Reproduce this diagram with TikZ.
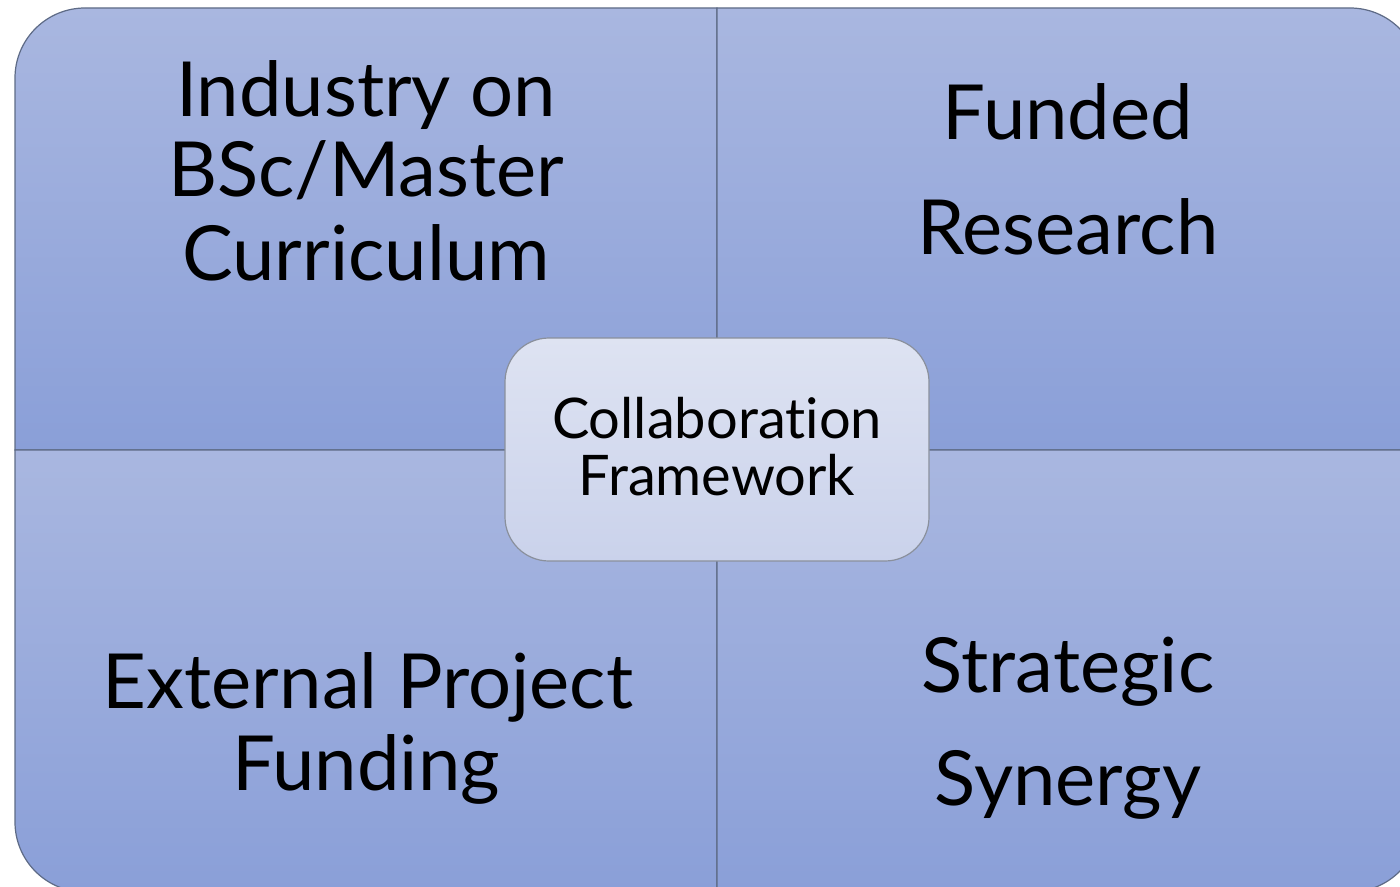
\documentclass[tikz,border=0pt]{standalone}
\usepackage{fontspec}
\setmainfont{Lato}[Ligatures=NoCommon]
\definecolor{qtop}{HTML}{A9B7E0}
\definecolor{qbot}{HTML}{8A9FD8}
\definecolor{qline}{HTML}{5E6B86}
\definecolor{ctop}{HTML}{DEE3F2}
\definecolor{cbot}{HTML}{CAD2EB}
\definecolor{cline}{HTML}{8A909C}
\tikzset{
  quad/.style={top color=qtop, bottom color=qbot, draw=qline, line width=0.6pt},
  bigtext/.style={anchor=base, inner sep=0pt, font=\fontsize{38}{40}\selectfont},
  centerbox/.style={draw=cline, line width=0.6pt, rounded corners=22pt, top color=ctop, bottom color=cbot,
    minimum width=212pt, minimum height=111.5pt, inner sep=0pt},
  midtext/.style={anchor=base, inner sep=0pt, font=\fontsize{28}{30}\selectfont}
}
\begin{document}
\begin{tikzpicture}[x=0.5pt,y=0.5pt]
\useasboundingbox (0,0) rectangle (1400,-887);
\begin{scope}
\clip (0,0) rectangle (1400,-887);
% top-left
\path[quad] (15,-450) -- (15,-78) arc[start angle=180,end angle=90,radius=35pt] -- (717,-8) -- (717,-450) -- cycle;
% top-right
\path[quad] (717,-450) -- (717,-8) -- (1350,-8) arc[start angle=90,end angle=0,radius=35pt] -- (1420,-450) -- cycle;
% bottom-left
\path[quad] (15,-450) -- (717,-450) -- (717,-892) -- (85,-892) arc[start angle=270,end angle=180,radius=35pt] -- cycle;
% bottom-right
\path[quad] (717,-450) -- (1420,-450) -- (1420,-822) arc[start angle=0,end angle=-90,radius=35pt] -- (717,-892) -- cycle;
\end{scope}

\node[bigtext] (tl1) at (366,-117) {Industry on};
\node[bigtext] (tl2) at (366,-197) {BSc/Master};
\node[bigtext] (tl3) at (366,-280) {Curriculum};

\node[bigtext] (tr1) at (1068,-140) {Funded};
\node[bigtext] (tr2) at (1068,-255) {Research};

\node[bigtext] (bl1) at (368,-708) {External Project};
\node[bigtext] (bl2) at (366,-790) {Funding};

\node[bigtext] (br1) at (1068,-692) {Strategic};
\node[bigtext] (br2) at (1068,-805) {Synergy};

\node[centerbox] (c) at (717,-449.5) {};
\node[midtext] (c1) at (717,-438) {Collaboration};
\node[midtext] (c2) at (717,-495) {Framework};
\end{tikzpicture}
\end{document}
